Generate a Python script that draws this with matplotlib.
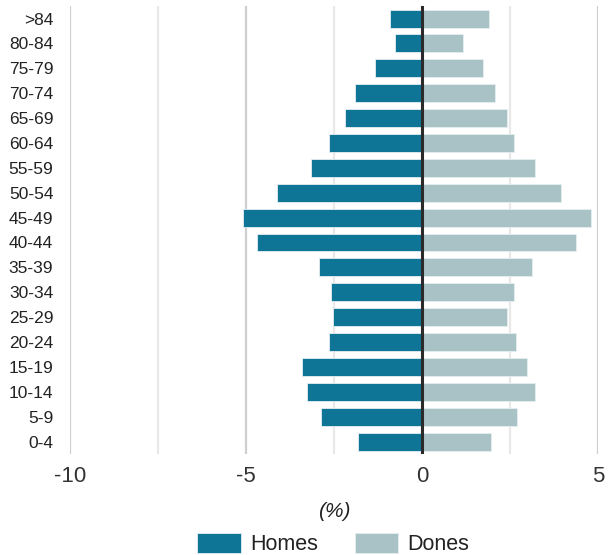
import matplotlib
matplotlib.use("Agg")
import matplotlib.pyplot as plt
from matplotlib.ticker import MultipleLocator
import numpy as np

plt.rcParams['font.family'] = ['Liberation Sans', 'DejaVu Sans']

age_groups = ["0-4", "5-9", "10-14", "15-19", "20-24", "25-29", "30-34", "35-39",
              "40-44", "45-49", "50-54", "55-59", "60-64", "65-69", "70-74",
              "75-79", "80-84", ">84"]
homes = [1.83, 2.87, 3.26, 3.42, 2.63, 2.52, 2.59, 2.92, 4.69, 5.08, 4.11, 3.14,
         2.63, 2.18, 1.90, 1.33, 0.76, 0.92]
dones = [1.97, 2.70, 3.21, 2.98, 2.66, 2.42, 2.60, 3.11, 4.36, 4.81, 3.96, 3.21,
         2.60, 2.42, 2.08, 1.74, 1.17, 1.91]
x_ticks = [-10, -5, 0, 5]
x_labels = ["-10", "-5", "0", "5"]

c_homes = "#0E7596"
c_dones = "#A8C2C6"

fig = plt.figure(figsize=(6.14, 5.55), dpi=100)
ax = fig.add_axes([0.114, 0.182, 0.86, 0.807])

y = np.arange(len(age_groups))
ax.barh(y, [-v for v in homes], height=0.72, color=c_homes, edgecolor="#E6EEF0",
        linewidth=0.6, label="Homes", zorder=2)
ax.barh(y, dones, height=0.72, color=c_dones, edgecolor="#E6EEF0",
        linewidth=0.6, label="Dones", zorder=2)

ax.set_xlim(-10, 5)
ax.set_ylim(-0.5, len(age_groups) - 0.5)
ax.set_xticks(x_ticks)
ax.set_xticklabels(x_labels)
ax.xaxis.set_minor_locator(MultipleLocator(2.5))
ax.grid(axis="x", which="major", color="#CFCFCF", linewidth=1.6, zorder=0)
ax.grid(axis="x", which="minor", color="#E8E8E8", linewidth=1.6, zorder=0)
ax.set_axisbelow(True)
ax.axvline(0, color="#2b2b2b", linewidth=2.2, zorder=3)

ax.set_yticks(y)
ax.set_yticklabels(age_groups)
ax.tick_params(axis="y", length=0, pad=12, labelsize=12.5, labelcolor="#222222")
ax.tick_params(axis="x", which="both", length=0, pad=9, labelsize=16,
               labelcolor="#333333")
for s in ax.spines.values():
    s.set_visible(False)

ax.set_xlabel("(%)", fontstyle="italic", fontsize=15, color="#222222", labelpad=10.5)

handles, labels = ax.get_legend_handles_labels()
leg = fig.legend(handles, labels, loc="center", bbox_to_anchor=(0.543, 0.019),
                 ncol=2, frameon=False, fontsize=15.5, handlelength=2.0,
                 handleheight=1.0, columnspacing=1.7, handletextpad=0.45,
                 borderpad=0, borderaxespad=0)
for t in leg.get_texts():
    t.set_color("#222222")

fig.savefig("out.png", dpi=100)
